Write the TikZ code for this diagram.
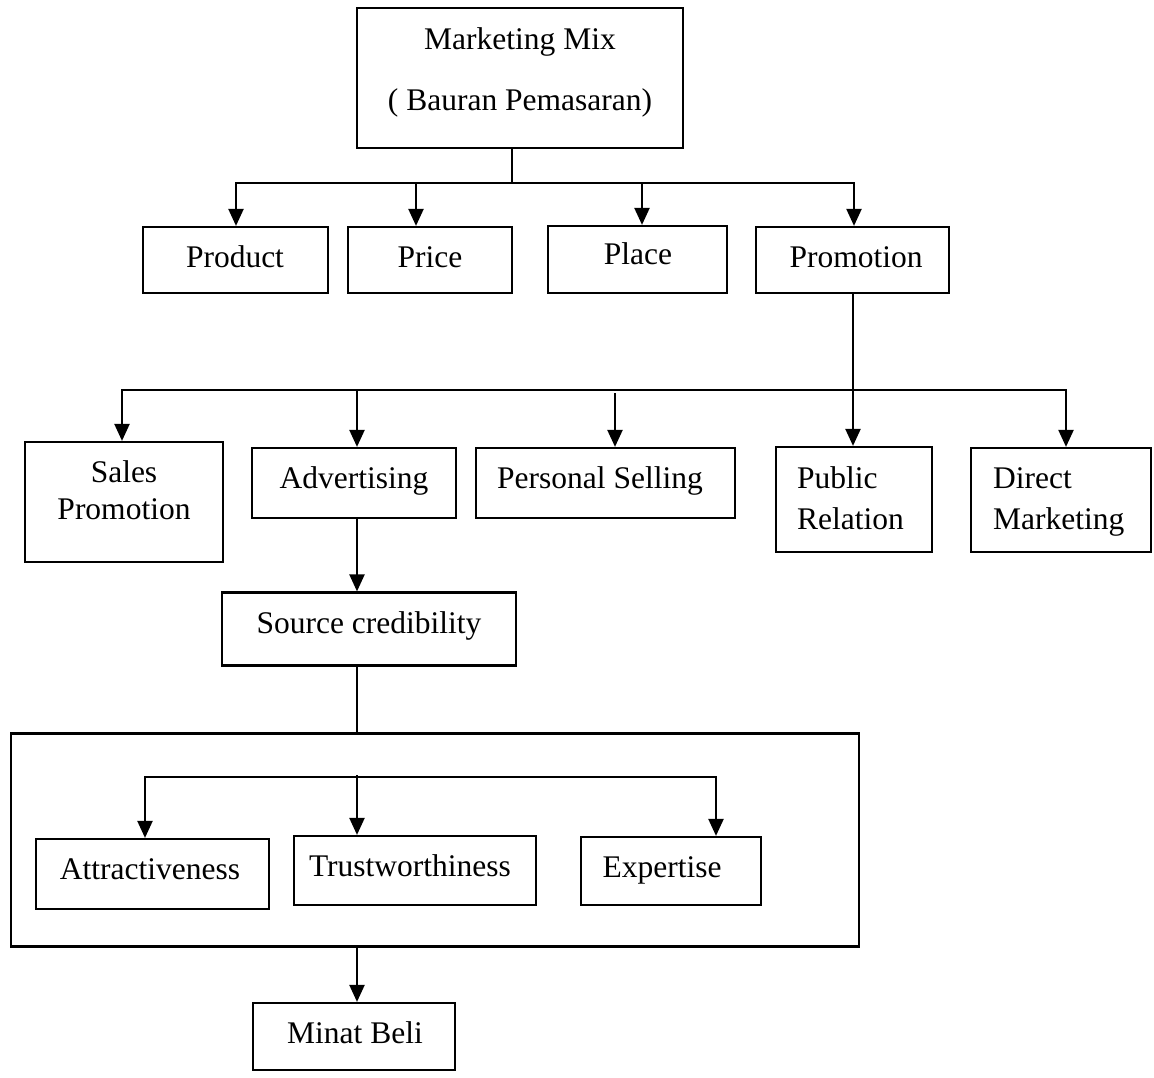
\documentclass[tikz,border=0pt]{standalone}
\usepackage{fontspec}
\setmainfont{Liberation Serif}
\usetikzlibrary{arrows.meta}
\begin{document}
\begin{tikzpicture}[x=1pt,y=-1pt,
  box/.style={draw, line width=2.2pt, rectangle, inner sep=0pt},
  lbl/.style={anchor=base, inner sep=0pt, font=\fontsize{31.5}{38}\selectfont},
  lblw/.style={anchor=base west, inner sep=0pt, font=\fontsize{31.5}{38}\selectfont},
  conn/.style={line width=2.2pt, line cap=rect},
  arr/.style={line width=2.2pt, -{Triangle[length=17pt,width=15pt]}}]
\useasboundingbox (0,0) rectangle (1154,1078);

% boxes
\node[box, minimum width=326pt, minimum height=140pt] (mm) at (520,78) {};
\node[box, minimum width=185pt, minimum height=66pt] (product) at (235.5,260) {};
\node[box, minimum width=164pt, minimum height=66pt] (price) at (430,260) {};
\node[box, minimum width=179pt, minimum height=67pt] (place) at (637.5,259.5) {};
\node[box, minimum width=193pt, minimum height=66pt] (promotion) at (852.5,260) {};
\node[box, minimum width=198pt, minimum height=120pt] (sales) at (124,502) {};
\node[box, minimum width=204pt, minimum height=70pt] (adv) at (354,483) {};
\node[box, minimum width=259pt, minimum height=70pt] (personal) at (605.5,483) {};
\node[box, minimum width=156pt, minimum height=105pt] (public) at (854,499.5) {};
\node[box, minimum width=180pt, minimum height=104pt] (direct) at (1061,500) {};
\node[box, minimum width=294pt, minimum height=73pt] (source) at (369,629) {};
\node[box, minimum width=848pt, minimum height=213pt] (group) at (435,840) {};
\node[box, minimum width=233pt, minimum height=70pt] (attr) at (152.5,874) {};
\node[box, minimum width=242pt, minimum height=69pt] (trust) at (415,870.5) {};
\node[box, minimum width=180pt, minimum height=68pt] (expert) at (671,871) {};
\node[box, minimum width=202pt, minimum height=67pt] (minat) at (354,1036.5) {};

% texts
\node[lbl] (tmm1) at (520,50) {Marketing Mix};
\node[lbl] (tmm2) at (520,111) {( Bauran Pemasaran)};
\node[lbl] (tproduct) at (235,267) {Product};
\node[lbl] (tprice) at (430,267) {Price};
\node[lbl] (tplace) at (638,265) {Place};
\node[lbl] (tpromotion) at (856,267) {Promotion};
\node[lbl] (tsales1) at (124,482) {Sales};
\node[lbl] (tsales2) at (124,519) {Promotion};
\node[lbl] (tadv) at (354,488) {Advertising};
\node[lbl] (tpersonal) at (600,488) {Personal Selling};
\node[lblw] (tpublic1) at (797,488) {Public};
\node[lblw] (tpublic2) at (797,529) {Relation};
\node[lblw] (tdirect1) at (993,488) {Direct};
\node[lblw] (tdirect2) at (993,529) {Marketing};
\node[lbl] (tsource) at (369,633) {Source credibility};
\node[lbl] (tattr) at (150,879) {Attractiveness};
\node[lbl] (ttrust) at (410,876) {Trustworthiness};
\node[lbl] (texpert) at (662,877) {Expertise};
\node[lbl] (tminat) at (355,1043) {Minat Beli};

% level 1 connectors
\coordinate (t0) at (512,183);
\coordinate (tl) at (236,183);
\coordinate (tr) at (854,183);
\coordinate (tpr) at (416,183);
\coordinate (tpl) at (642,183);
\draw[conn] (mm.south -| t0) -- (t0);
\draw[conn] (tl) -- (tr);
\draw[arr] (tl) -- (tl |- product.north);
\draw[arr] (tpr) -- (tpr |- price.north);
\draw[arr] (tpl) -- (tpl |- place.north);
\draw[arr] (tr) -- (tr |- promotion.north);

% level 2 connectors
\coordinate (pv) at (853,390);
\coordinate (hl) at (122,390);
\coordinate (hr) at (1066,390);
\coordinate (ha) at (357,390);
\coordinate (hp) at (615,393);
\draw[arr] (promotion.south -| pv) -- (pv |- public.north);
\draw[conn] (hl) -- (hr);
\draw[arr] (hl) -- (hl |- sales.north);
\draw[arr] (ha) -- (ha |- adv.north);
\draw[arr] (hp) -- (hp |- personal.north);
\draw[arr] (hr) -- (hr |- direct.north);

% advertising chain
\draw[arr] (adv.south -| ha) -- (ha |- source.north);
\draw[conn] (source.south -| ha) -- (ha |- group.north);

% inner connectors
\coordinate (il) at (145,777);
\coordinate (ir) at (716,777);
\coordinate (im) at (357,775);
\draw[conn] (il) -- (ir);
\draw[arr] (il) -- (il |- attr.north);
\draw[arr] (im) -- (im |- trust.north);
\draw[arr] (ir) -- (ir |- expert.north);

\draw[arr] (group.south -| ha) -- (ha |- minat.north);
\end{tikzpicture}
\end{document}
